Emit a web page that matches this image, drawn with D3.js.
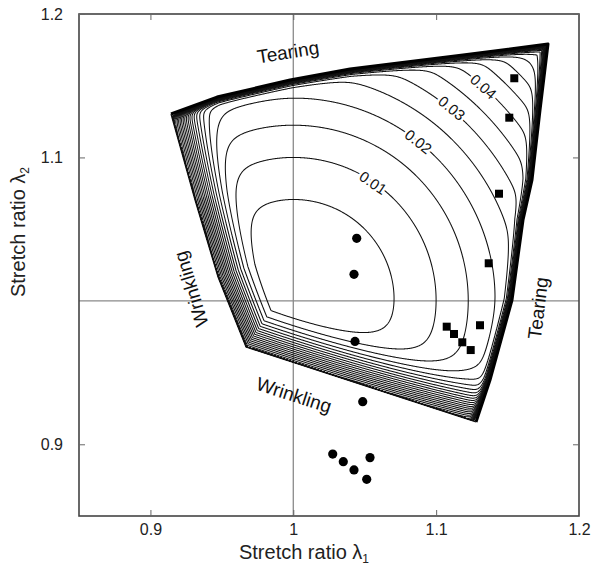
<!DOCTYPE html>
<html>
<head>
<meta charset="utf-8">
<script src="https://cdn.jsdelivr.net/npm/d3@7"></script>
<style>
  body { margin: 0; background: #fff; }
  text { font-family: "Liberation Sans", Arial, sans-serif; }
</style>
</head>
<body>
<div id="chart"></div>
<script>
(function(){
  // axis setup
  const xDomain = [0.85, 1.2];
  const yDomain = [0.85, 1.2];
  const xTickValues = [0.9, 1, 1.1, 1.2];
  const xTickLabels = ['0.9', '1', '1.1', '1.2'];
  const yTickValues = [0.9, 1.1, 1.2];
  const yTickLabels = ['0.9', '1.1', '1.2'];

  // limit curves (lambda1, lambda2)
  const tearingEdge = [
    [0.9144, 1.1303], [0.9466, 1.1421], [0.9977, 1.1540], [1.0397, 1.1617],
    [1.1188, 1.1714], [1.1783, 1.1791], [1.1727, 1.1331], [1.1671, 1.0843],
    [1.1608, 1.0564], [1.1531, 1.0006], [1.1377, 0.9448], [1.1279, 0.9155]
  ];
  const wrinklingEdge = [
    [1.1279, 0.9155], [0.9669, 0.9678], [0.9473, 1.0166], [0.9312, 1.0703], [0.9144, 1.1303]
  ];

  // contour levels and the labelled ones
  const contourLevels = [0.005, 0.01, 0.015, 0.02, 0.025, 0.03, 0.035, 0.04, 0.045, 0.05,
    0.055, 0.06, 0.065, 0.07, 0.075, 0.08, 0.085, 0.09, 0.095, 0.1,
    0.105, 0.11, 0.115, 0.12, 0.125, 0.13, 0.135, 0.14];
  const labelTexts = ['0.01', '0.02', '0.03', '0.04'];
  const labelX = [1.0558, 1.0875, 1.1109, 1.1330];
  const labelY = [1.0822, 1.1110, 1.1343, 1.1493];

  // measured points
  const circleX = [1.0444, 1.0425, 1.0432, 1.0486, 1.0276, 1.0350, 1.0425, 1.0514, 1.0537];
  const circleY = [1.0436, 1.0185, 0.9717, 0.9297, 0.8932, 0.8879, 0.8821, 0.8756, 0.8907];
  const squareX = [1.1547, 1.1512, 1.1440, 1.1368, 1.1074, 1.1125, 1.1183, 1.1242, 1.1307];
  const squareY = [1.1552, 1.1277, 1.0747, 1.0262, 0.9820, 0.9769, 0.9711, 0.9657, 0.9830];

  // region names
  const notes = ['Tearing', 'Tearing', 'Wrinkling', 'Wrinkling'];
  const noteX = [0.9963, 1.1713, 0.9284, 1.0005];
  const noteY = [1.1735, 0.9950, 1.0083, 0.9344];

  const width = 595, height = 573;
  const x = d3.scaleLinear().domain(xDomain).range([79, 579]);
  const y = d3.scaleLinear().domain(yDomain).range([516, 14]);

  const svg = d3.select('#chart').append('svg')
    .attr('width', width).attr('height', height);

  const polygon = tearingEdge.concat(wrinklingEdge.slice(1, -1));

  svg.append('defs').append('clipPath').attr('id', 'region')
    .append('path')
    .attr('d', d3.line().x(d => x(d[0])).y(d => y(d[1]))(polygon) + 'Z');

  // reference lines at lambda = 1
  svg.append('line')
    .attr('x1', x(1)).attr('x2', x(1)).attr('y1', y(yDomain[0])).attr('y2', y(yDomain[1]))
    .attr('stroke', '#8a8a8a').attr('stroke-width', 1.3);
  svg.append('line')
    .attr('x1', x(xDomain[0])).attr('x2', x(xDomain[1])).attr('y1', y(1)).attr('y2', y(1))
    .attr('stroke', '#8a8a8a').attr('stroke-width', 1.3);

  // ---- field for the contours ----
  function segDist(p, a, b) {
    const dx = b[0] - a[0], dy = b[1] - a[1];
    let t = ((p[0] - a[0]) * dx + (p[1] - a[1]) * dy) / (dx * dx + dy * dy);
    t = Math.max(0, Math.min(1, t));
    const ex = p[0] - a[0] - t * dx, ey = p[1] - a[1] - t * dy;
    return Math.sqrt(ex * ex + ey * ey);
  }
  function lineDist(p, pts, from) {
    let m = Infinity;
    for (let i = from || 0; i < pts.length - 1; i++) m = Math.min(m, segDist(p, pts[i], pts[i + 1]));
    return m;
  }
  function softplus(z) { return z > 30 ? z : Math.log1p(Math.exp(z)); }

  function field(l1, l2) {
    const p = [l1, l2];
    const sign = d3.polygonContains(polygon, p) ? 1 : -1;
    const dBottom = segDist(p, wrinklingEdge[0], wrinklingEdge[1]) / 1.15;
    const dLeft = lineDist(p, wrinklingEdge, 1);
    const dW = sign * Math.min(dBottom, dLeft);
    const dT = sign * lineDist(p, tearingEdge);
    const r2 = (l1 - 1) * (l1 - 1) + (l2 - 1) * (l2 - 1);
    const gW = 5 * 0.0055 * softplus((0.0165 - dW) / 0.0055);
    const gT = 0.1 * Math.exp(Math.min(40, -dT / 0.0016));
    return r2 + gW + gT;
  }

  const k = 2;
  const gx0 = 150, gy0 = 30, gw = 420, gh = 410;
  const n = gw * k, m = gh * k;
  const values = new Float64Array(n * m);
  for (let j = 0; j < m; j++) {
    const l2 = y.invert(gy0 + (j + 0.5) / k);
    for (let i = 0; i < n; i++) {
      values[j * n + i] = field(x.invert(gx0 + (i + 0.5) / k), l2);
    }
  }
  const contours = d3.contours().size([n, m]).thresholds(contourLevels)(values);
  const toScreen = d3.geoTransform({
    point: function(px, py) { this.stream.point(gx0 + px / k, gy0 + py / k); }
  });
  const path = d3.geoPath(toScreen);

  svg.append('g').attr('clip-path', 'url(#region)')
    .selectAll('path')
    .data(contours)
    .enter().append('path')
    .attr('d', path)
    .attr('fill', 'none')
    .attr('stroke', '#111')
    .attr('stroke-width', 1.05);

  // limit curves
  const line = d3.line().x(d => x(d[0])).y(d => y(d[1]));
  svg.append('path').attr('d', line(tearingEdge))
    .attr('fill', 'none').attr('stroke', '#000').attr('stroke-width', 3)
    .attr('stroke-linejoin', 'round');
  svg.append('path').attr('d', line(wrinklingEdge))
    .attr('fill', 'none').attr('stroke', '#111').attr('stroke-width', 1.2);

  // contour labels
  svg.append('g').selectAll('text')
    .data(labelTexts)
    .enter().append('text')
    .attr('transform', (d, i) => {
      const ang = Math.atan2(labelX[i] - 1, labelY[i] - 1) * 180 / Math.PI;
      return 'translate(' + x(labelX[i]) + ',' + y(labelY[i]) + ') rotate(' + ang + ')';
    })
    .attr('text-anchor', 'middle')
    .attr('dy', '0.35em')
    .attr('font-size', 15)
    .attr('paint-order', 'stroke')
    .attr('stroke', '#fff')
    .attr('stroke-width', 5)
    .attr('fill', '#111')
    .text(d => d);

  // measured points
  svg.append('g').selectAll('circle')
    .data(circleX)
    .enter().append('circle')
    .attr('cx', d => x(d))
    .attr('cy', (d, i) => y(circleY[i]))
    .attr('r', 4.6)
    .attr('fill', '#000');

  svg.append('g').selectAll('rect')
    .data(squareX)
    .enter().append('rect')
    .attr('x', d => x(d) - 4)
    .attr('y', (d, i) => y(squareY[i]) - 4)
    .attr('width', 8).attr('height', 8)
    .attr('fill', '#000');

  // region names
  const noteAngle = [-9, -83, -107, 18];
  svg.append('g').selectAll('text')
    .data(notes)
    .enter().append('text')
    .attr('transform', (d, i) => 'translate(' + x(noteX[i]) + ',' + y(noteY[i]) + ') rotate(' + noteAngle[i] + ')')
    .attr('text-anchor', 'middle')
    .attr('dy', '0.35em')
    .attr('font-size', 19)
    .attr('fill', '#111')
    .text(d => d);

  // frame
  svg.append('rect')
    .attr('x', x(xDomain[0])).attr('y', y(yDomain[1]))
    .attr('width', x(xDomain[1]) - x(xDomain[0]))
    .attr('height', y(yDomain[0]) - y(yDomain[1]))
    .attr('fill', 'none').attr('stroke', '#444').attr('stroke-width', 1.6);

  // axes, ticks point inwards
  function style(g) {
    g.select('.domain').remove();
    g.selectAll('.tick line').attr('stroke', '#666').attr('stroke-width', 1);
    g.selectAll('.tick text').attr('font-size', 16).attr('fill', '#222')
      .style('font-family', '"Liberation Sans", Arial, sans-serif');
  }
  svg.append('g').attr('transform', 'translate(0,' + y(yDomain[0]) + ')')
    .call(d3.axisBottom(x).tickValues(xTickValues).tickFormat((d, i) => xTickLabels[i])
      .tickSizeInner(-6).tickSizeOuter(0).tickPadding(8))
    .call(style);
  svg.append('g').attr('transform', 'translate(0,' + y(yDomain[1]) + ')')
    .call(d3.axisTop(x).tickValues(xTickValues).tickFormat('').tickSizeInner(-6).tickSizeOuter(0))
    .call(style);
  svg.append('g').attr('transform', 'translate(' + x(xDomain[0]) + ',0)')
    .call(d3.axisLeft(y).tickValues(yTickValues).tickFormat((d, i) => yTickLabels[i])
      .tickSizeInner(-6).tickSizeOuter(0).tickPadding(16))
    .call(style);
  svg.append('g').attr('transform', 'translate(' + x(xDomain[1]) + ',0)')
    .call(d3.axisRight(y).tickValues(yTickValues).tickFormat('').tickSizeInner(-6).tickSizeOuter(0))
    .call(style);

  // axis titles
  const xt = svg.append('text')
    .attr('x', 304).attr('y', 559)
    .attr('text-anchor', 'middle').attr('font-size', 20).attr('fill', '#222');
  xt.append('tspan').text('Stretch ratio \u03bb');
  xt.append('tspan').attr('font-size', 12).attr('dy', 4).text('1');

  const yt = svg.append('text')
    .attr('transform', 'translate(25,232) rotate(-90)')
    .attr('text-anchor', 'middle').attr('font-size', 20).attr('fill', '#222');
  yt.append('tspan').text('Stretch ratio \u03bb');
  yt.append('tspan').attr('font-size', 12).attr('dy', 4).text('2');
})();
</script>
</body>
</html>
